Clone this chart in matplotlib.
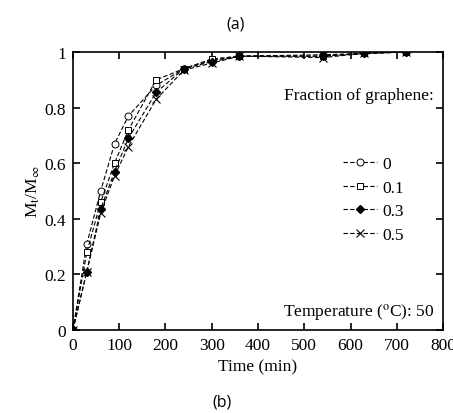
import matplotlib
matplotlib.use("Agg")
import matplotlib.pyplot as plt

# sorption data
times = [0, 30, 60, 90, 120, 180, 240, 300, 360, 540, 630, 720]
frac_0 = [0, 0.31, 0.50, 0.67, 0.77, 0.88, 0.94, 0.97, 0.985, 0.99, 0.995, 1.0]
frac_01 = [0, 0.28, 0.46, 0.60, 0.72, 0.90, 0.94, 0.975, 0.985, 0.985, 0.995, 1.0]
frac_03 = [0, 0.21, 0.435, 0.57, 0.69, 0.855, 0.94, 0.965, 0.985, 0.985, 0.995, 1.0]
frac_05 = [0, 0.21, 0.42, 0.555, 0.66, 0.83, 0.935, 0.96, 0.985, 0.98, 0.995, 1.0]
labels = ["0", "0.1", "0.3", "0.5"]

plt.rcParams['font.family'] = ['Liberation Serif', 'DejaVu Serif']
plt.rcParams['mathtext.fontset'] = 'stix'
fs = 12.5

fig = plt.figure(figsize=(4.53, 4.14), dpi=100)
ax = fig.add_axes([0.161, 0.2005, 0.817, 0.6715])

dash = (4, 2)
ax.plot(times, frac_0, color='black', lw=0.8, dashes=dash, marker='o', ms=5,
        mfc='white', mec='black', mew=0.7, label=labels[0])
ax.plot(times, frac_01, color='black', lw=0.8, dashes=dash, marker='s', ms=5,
        mfc='white', mec='black', mew=0.7, label=labels[1])
ax.plot(times, frac_03, color='black', lw=0.8, dashes=dash, marker='D', ms=4,
        mfc='black', mec='black', label=labels[2])
ax.plot(times, frac_05, color='black', lw=0.8, dashes=dash, marker='x', ms=6,
        mec='black', mew=0.8, label=labels[3])

ax.set_xlim(0, 800)
ax.set_ylim(0, 1)
ax.set_xticks(range(0, 801, 100))
ax.set_yticks([0, 0.2, 0.4, 0.6, 0.8, 1.0])
ax.set_yticklabels(["0", "0.2", "0.4", "0.6", "0.8", "1"])
ax.tick_params(direction='in', top=True, right=True, length=5, width=1.2,
               labelsize=fs, pad=5)
for sp in ax.spines.values():
    sp.set_linewidth(1.2)

ax.set_xlabel("Time (min)", fontsize=fs, labelpad=4)
ax.set_ylabel(r"M$_\mathrm{t}$/M$_\infty$", fontsize=fs, labelpad=2)

ax.text(0.975, 0.845, "Fraction of graphene:", transform=ax.transAxes,
        ha='right', va='center', fontsize=fs)
ax.legend(loc='upper left', bbox_to_anchor=(0.71, 0.65), frameon=False,
          fontsize=fs, handlelength=2.0, handletextpad=0.3,
          labelspacing=0.42, borderaxespad=0)
ax.text(0.975, 0.065, "Temperature ($^\\mathrm{o}$C): 50", transform=ax.transAxes,
        ha='right', va='center', fontsize=fs)

fig.text(0.519, 0.94, "(a)", ha='center', va='center', fontsize=11.5,
         family='Open Sans')
fig.text(0.49, 0.028, "(b)", ha='center', va='center', fontsize=11.5,
         family='Open Sans')

fig.savefig("out.png", dpi=100)
